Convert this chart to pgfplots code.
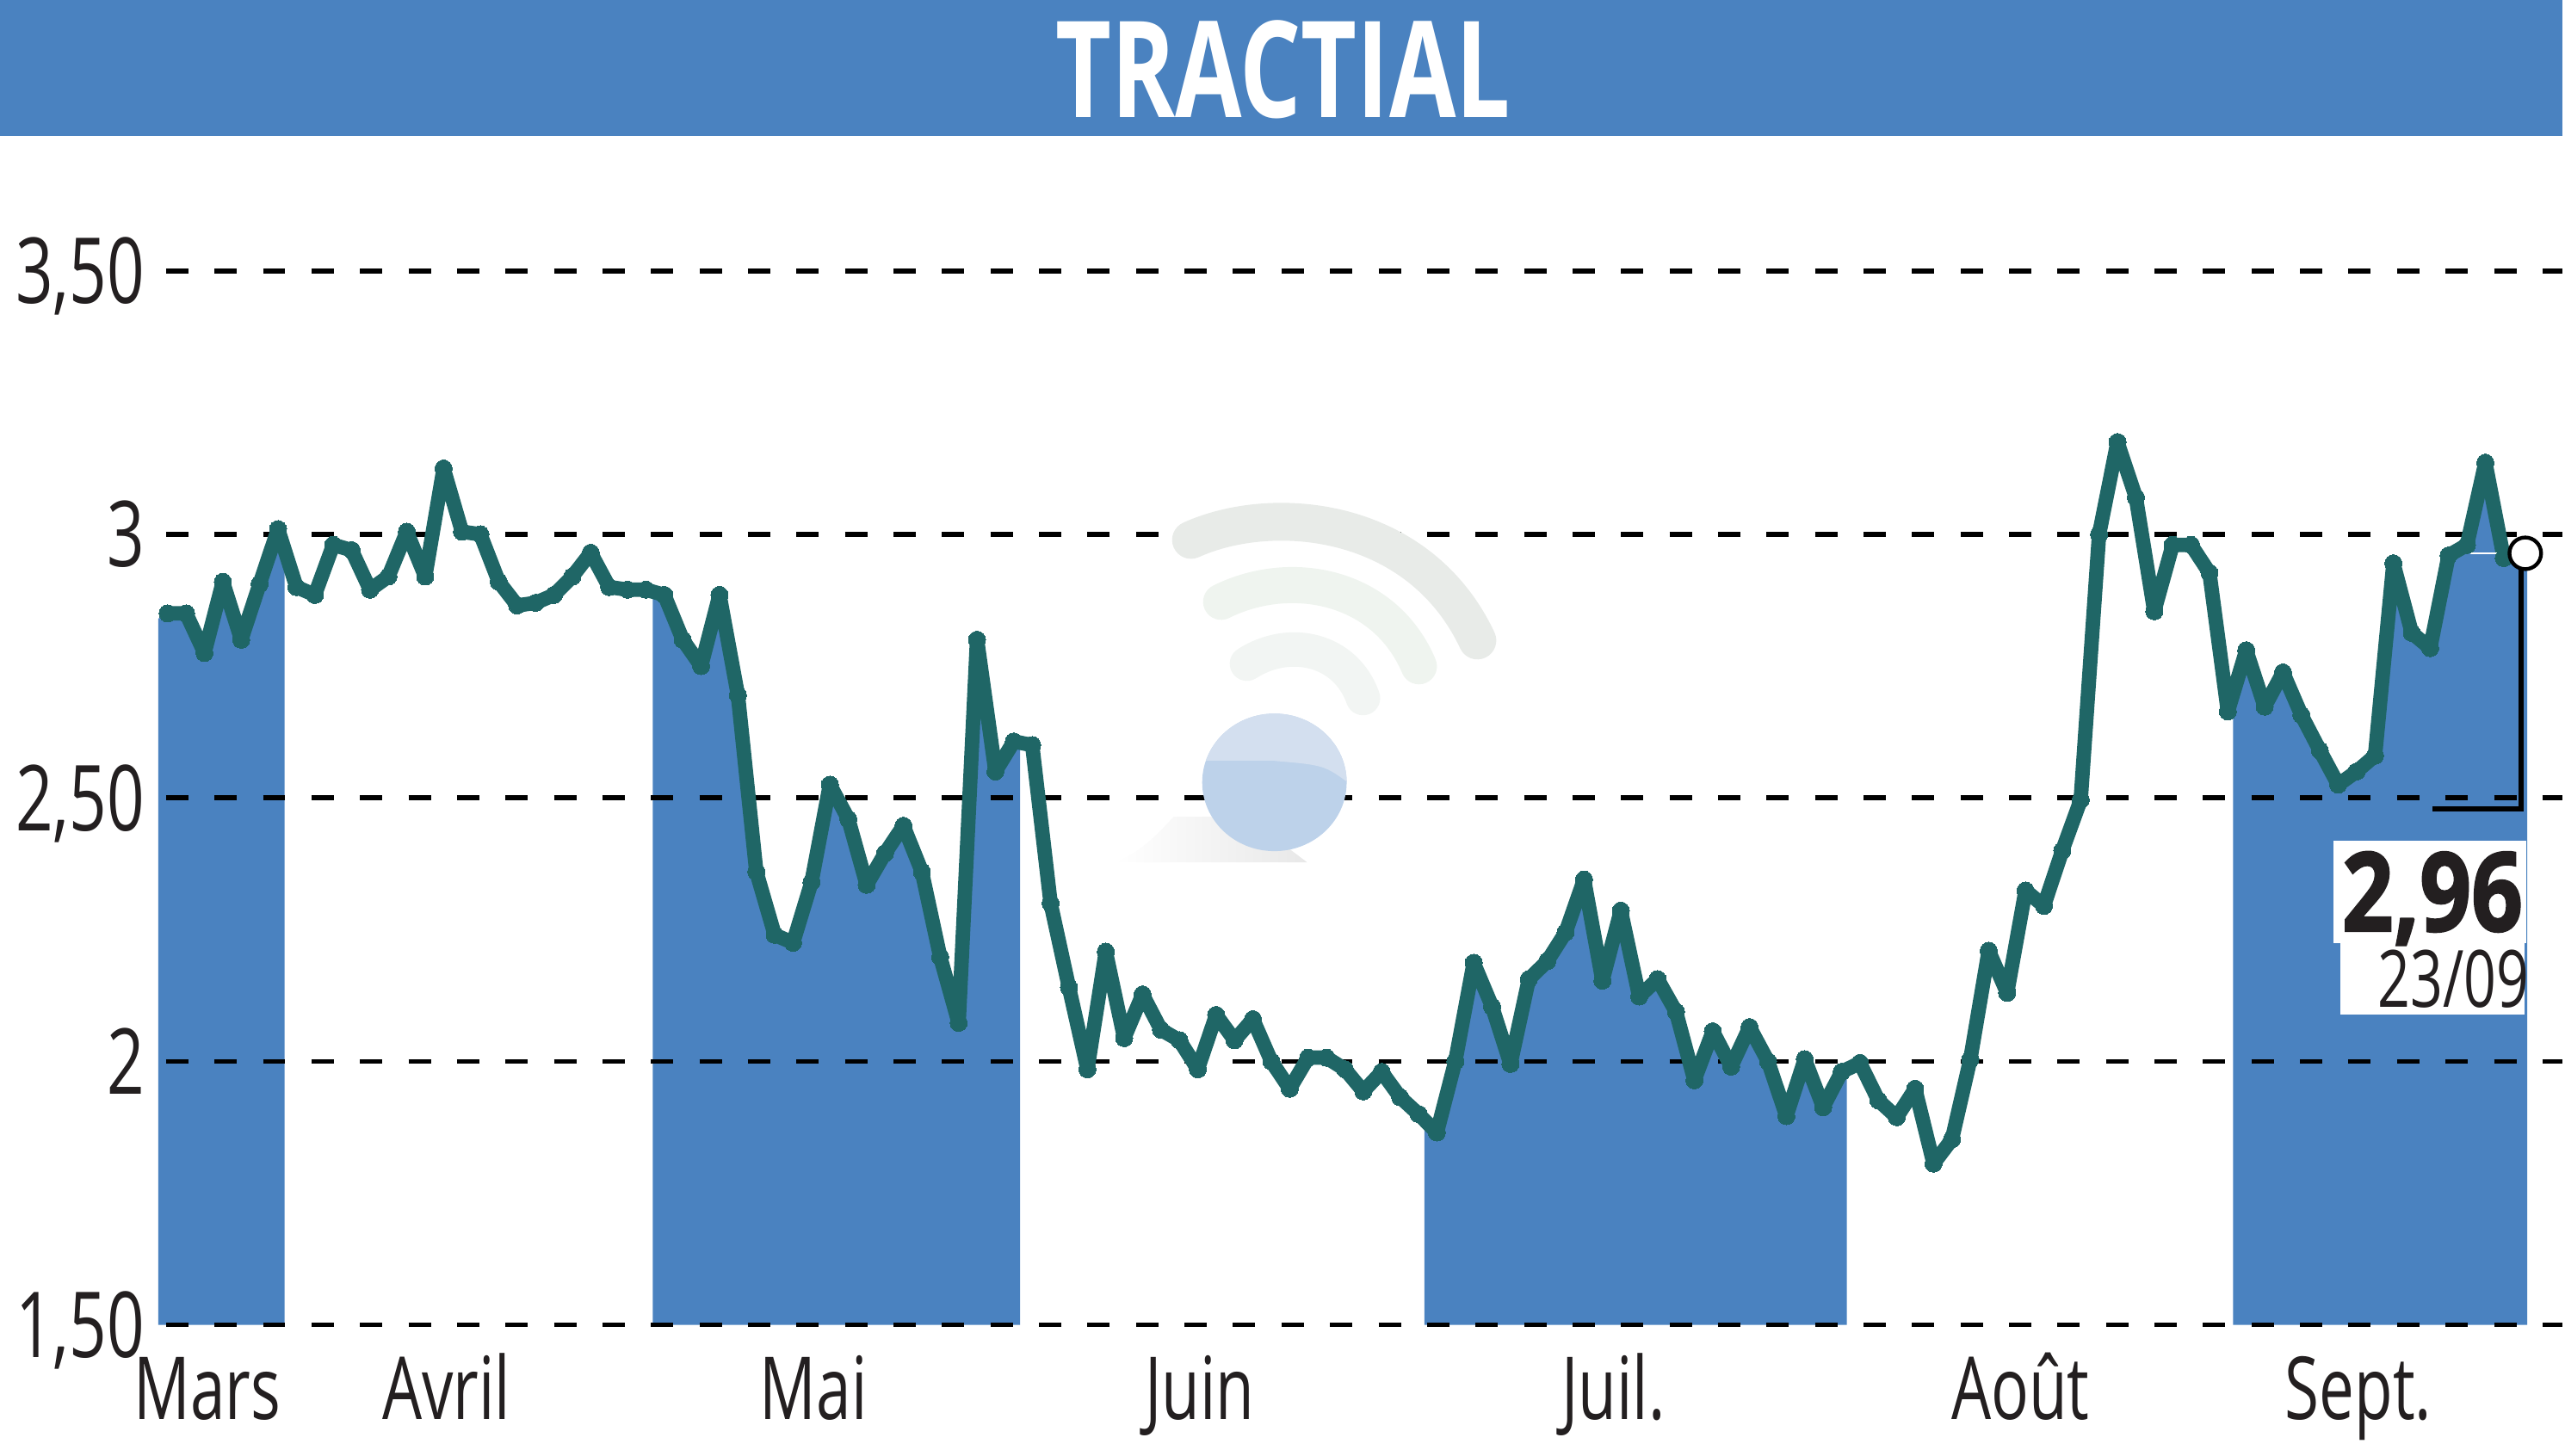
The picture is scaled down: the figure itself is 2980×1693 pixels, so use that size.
\documentclass[border=0pt]{standalone}
\usepackage{fontspec}
\setmainfont[FakeStretch=0.72]{Open Sans}
\newfontfamily\valuefont[FakeStretch=0.82,BoldFeatures={FakeBold=1.5}]{Open Sans}
\usepackage{pgfplots}
\usepackage{pgfplotstable}
\pgfplotsset{compat=1.18}
\definecolor{band}{HTML}{4A82C0}
\definecolor{courbe}{HTML}{1F6666}
\definecolor{encre}{HTML}{231F20}
\pgfplotstableread{
i v
0 2.85
1 2.85
2 2.775
3 2.91
4 2.80
5 2.906
6 3.01
7 2.90
8 2.885
9 2.98
10 2.97
11 2.895
12 2.92
13 3.005
14 2.92
15 3.125
16 3.005
17 3.00
18 2.91
19 2.865
20 2.87
21 2.885
22 2.92
23 2.965
24 2.90
25 2.895
26 2.895
27 2.885
28 2.80
29 2.75
30 2.885
31 2.695
32 2.36
33 2.24
34 2.225
35 2.34
36 2.525
37 2.46
38 2.335
39 2.395
40 2.447
41 2.36
42 2.198
43 2.073
44 2.80
45 2.55
46 2.607
47 2.60
48 2.30
49 2.14
50 1.985
51 2.208
52 2.044
53 2.127
54 2.06
55 2.04
56 1.985
57 2.088
58 2.04
59 2.08
60 2.00
61 1.948
62 2.007
63 2.007
64 1.985
65 1.943
66 1.98
67 1.932
68 1.90
69 1.865
70 2.00
71 2.187
72 2.104
73 1.995
74 2.156
75 2.19
76 2.245
77 2.345
78 2.153
79 2.286
80 2.123
81 2.156
82 2.094
83 1.964
84 2.057
85 1.99
86 2.065
87 2.00
88 1.896
89 2.004
90 1.913
91 1.98
92 1.997
93 1.926
94 1.894
95 1.948
96 1.806
97 1.852
98 2.004
99 2.21
100 2.13
101 2.324
102 2.295
103 2.40
104 2.496
105 3.00
106 3.175
107 3.07
108 2.854
109 2.98
110 2.98
111 2.927
112 2.664
113 2.78
114 2.673
115 2.738
116 2.657
117 2.59
118 2.525
119 2.55
120 2.58
121 2.945
122 2.813
123 2.784
124 2.96
125 2.98
126 3.136
127 2.955
128.17 2.964
}\prix
\pgfplotstableread{
i v
-0.514 2.84
0 2.85
1 2.85
2 2.775
3 2.91
4 2.80
5 2.906
6 3.01
6.36 2.97
}\bandeA
\pgfplotstableread{
i v
26.37 2.89
27 2.885
28 2.80
29 2.75
30 2.885
31 2.695
32 2.36
33 2.24
34 2.225
35 2.34
36 2.525
37 2.46
38 2.335
39 2.395
40 2.447
41 2.36
42 2.198
43 2.073
44 2.80
45 2.55
46 2.607
46.34 2.605
}\bandeB
\pgfplotstableread{
i v
68.32 1.888
69 1.865
70 2.00
71 2.187
72 2.104
73 1.995
74 2.156
75 2.19
76 2.245
77 2.345
78 2.153
79 2.286
80 2.123
81 2.156
82 2.094
83 1.964
84 2.057
85 1.99
86 2.065
87 2.00
88 1.896
89 2.004
90 1.913
91 1.98
91.28 1.985
}\bandeC
\pgfplotstableread{
i v
112.28 2.696
113 2.78
114 2.673
115 2.738
116 2.657
117 2.59
118 2.525
119 2.55
120 2.58
121 2.945
122 2.813
123 2.784
124 2.96
125 2.98
126 3.136
127 2.955
128.27 2.964
}\bandeD
\begin{document}
\begin{tikzpicture}
\begin{scope}[x=0.25pt,y=-0.25pt]
  \path[use as bounding box] (0,0) rectangle (2980,1693);
  \fill[band] (0,0) rectangle (2980,158);
  % watermark
  \draw[color={rgb,255:red,232;green,235;blue,232},line width=11pt,line cap=round]
    (1385,628) .. controls (1480,585) and (1650,600) .. (1718,745);
  \draw[color={rgb,255:red,239;green,244;blue,239},line width=10.5pt,line cap=round]
    (1420,700) .. controls (1500,660) and (1610,680) .. (1650,775);
  \draw[color={rgb,255:red,242;green,245;blue,243},line width=10pt,line cap=round]
    (1450,772) .. controls (1500,740) and (1565,755) .. (1585,812);
  \shade[left color=white,right color={rgb,255:red,232;green,232;blue,232}]
    (1296,1003) .. controls (1330,990) and (1350,965) .. (1365,950) -- (1450,950) -- (1520,1003) -- cycle;
  \fill[color={rgb,255:red,189;green,210;blue,234}] (1482,910) ellipse [x radius=84,y radius=80];
  \begin{scope}
    \clip (1482,910) ellipse [x radius=84,y radius=80];
    \fill[color={rgb,255:red,211;green,223;blue,239}] (1390,820) rectangle (1570,885);
    \fill[color={rgb,255:red,211;green,223;blue,239}] (1482,885) -- (1570,885) -- (1570,912) .. controls (1540,890) .. cycle;
  \end{scope}
\end{scope}
\begin{axis}[
  at={(46pt,-385.25pt)},anchor=south west,
  scale only axis,width=699pt,height=306.5pt,
  xmin=-0.514,xmax=130.2,ymin=1.5,ymax=3.5,
  clip=false,set layers,
  axis line style={draw=none},
  major tick length=0pt,
  ytick={1.5,2,2.5,3,3.5},
  yticklabels={{1,50},{2},{2,50},{3},{3,50}},
  xtick={2.15,15.15,35.11,56.1,78.6,100.73,119.1},
  xticklabels={Mars,Avril,Mai,Juin,Juil.,Août,Sept.},
  ymajorgrids,
  major grid style={black,line width=1.4pt,dash pattern=on 6.5pt off 7.6pt,dash phase=11.85pt},
  tick label style={text=encre},
  yticklabel style={font=\fontsize{26.5}{27}\selectfont,anchor=east,inner sep=0pt,text height=19pt,text depth=0pt,xshift=-3.85pt},
  xticklabel style={font=\fontsize{25.3}{26}\selectfont,anchor=base,inner sep=0pt,yshift=-27.5pt},
  title={TRACTIAL},
  title style={at={(0.4678,1.1256)},anchor=base,inner sep=0pt,text=white,
    font=\fontsize{39}{39}\selectfont\bfseries},
]
\addplot[fill=band,draw=none,on layer=axis background] table[x=i,y=v] {\bandeA} \closedcycle;
\addplot[fill=band,draw=none,on layer=axis background] table[x=i,y=v] {\bandeB} \closedcycle;
\addplot[fill=band,draw=none,on layer=axis background] table[x=i,y=v] {\bandeC} \closedcycle;
\addplot[fill=band,draw=none,on layer=axis background] table[x=i,y=v] {\bandeD} \closedcycle;
% white value boxes
\fill[white] (axis cs:117.75,2.418) rectangle (axis cs:128.22,2.224);
\fill[white] (axis cs:118.12,2.224) rectangle (axis cs:128.12,2.088);
\addplot[courbe,line width=4.2pt,line join=round,mark=*,mark size=2.5pt,
  mark options={fill=courbe,line width=0pt}] table[x=i,y=v] {\prix};
\addplot[white,line width=0.3pt] coordinates {(125.2,2.964) (127.4,2.964)};
\addplot[black,line width=1.5pt,line join=miter] coordinates {(127.94,2.937) (127.94,2.479) (123.12,2.479)};
\addplot[only marks,mark=*,mark size=4.6pt,mark options={fill=white,draw=black,line width=1.1pt}]
  coordinates {(128.17,2.964)};
\node[anchor=base east,inner sep=0pt,text=encre,text depth=0pt,font=\fontsize{32}{32}\selectfont\valuefont\bfseries]
  at (axis cs:128.07,2.247) {2,96};
\node[anchor=base east,inner sep=0pt,text=encre,font=\fontsize{23}{23}\selectfont]
  at (axis cs:128.4,2.103) {23/09};
\end{axis}
\end{tikzpicture}
\end{document}
